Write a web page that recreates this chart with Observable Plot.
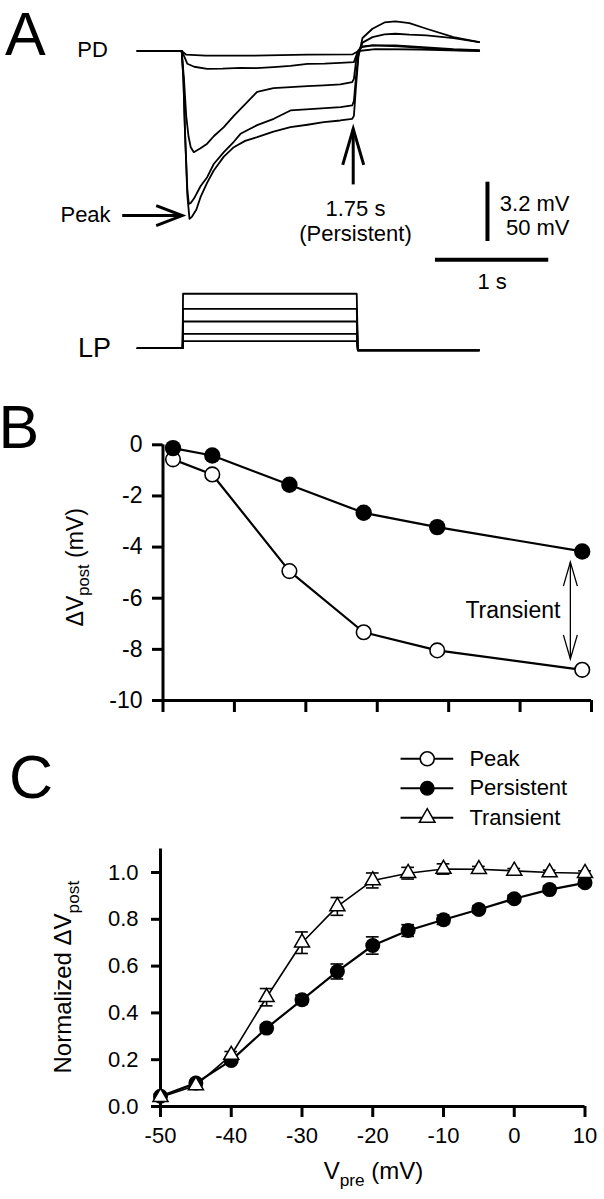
<!DOCTYPE html>
<html>
<head>
<meta charset="utf-8">
<script src="https://cdn.jsdelivr.net/npm/d3@7"></script>
<script src="https://cdn.jsdelivr.net/npm/@observablehq/plot@0.6"></script>
<style>
  body { margin: 0; background: #fff; }
  #fig { position: relative; width: 604px; height: 1199px; overflow: hidden; background: #fff;
         font-family: "Liberation Sans", Arial, Helvetica, sans-serif; color: #000; }
  #fig svg { position: absolute; left: 0; overflow: visible; }
  #fig svg [aria-label$="tick"] { stroke-width: 3px; }
  #fig svg .tick line { stroke-width: 3px; }
  .letter { position: absolute; font-size: 61px; line-height: 61px; }
</style>
</head>
<body>
<div id="fig"></div>
<script>
// ---------------- DATA ----------------
// Panel A: PD postsynaptic recordings, [time (s), ΔV (mV)]
const pdTrace1 = [[0,0],[0.39,0],[0.43,-0.2],[0.6,-0.25],[1.0,-0.25],[1.5,-0.2],[1.9,-0.18],[1.95,0],[2.1,0.1],[2.5,0.08],[3.016,0]];
const pdTrace2 = [[0,0],[0.39,0],[0.42,-0.4],[0.44,-0.69],[0.5,-0.85],[0.615,-0.96],[0.75,-0.95],[0.909,-0.91],[1.05,-0.92],[1.2,-0.87],[1.35,-0.8],[1.5,-0.69],[1.65,-0.68],[1.79,-0.64],[1.91,-0.6],[1.94,-0.1],[1.97,0.2],[2.074,0.3],[2.3,0.25],[2.55,0.15],[2.789,0.05],[3.016,0.02]];
const pdTrace3 = [[0,0],[0.39,0],[0.41,-1.5],[0.43,-3.5],[0.45,-4.6],[0.47,-5.2],[0.497,-5.46],[0.556,-5.25],[0.615,-5.0],[0.673,-4.6],[0.762,-4.11],[0.85,-3.5],[0.968,-2.76],[1.056,-2.2],[1.2,-2.0],[1.35,-1.95],[1.5,-1.9],[1.644,-1.86],[1.79,-1.8],[1.895,-1.68],[1.91,-1.5],[1.93,-0.5],[1.95,0.05],[1.986,0.25],[2.074,0.3],[2.277,0.3],[2.551,0.2],[2.789,0.1],[3.016,0.05]];
const pdTrace4 = [[0,0],[0.39,0],[0.405,-1.5],[0.42,-4.5],[0.44,-7.5],[0.453,-8.25],[0.47,-8.2],[0.5,-7.95],[0.556,-7.3],[0.615,-6.81],[0.673,-6.1],[0.762,-5.46],[0.85,-4.9],[0.909,-4.47],[1.056,-4.0],[1.203,-3.66],[1.35,-3.21],[1.556,-3.12],[1.792,-3.03],[1.895,-2.94],[1.91,-2.7],[1.93,-1.3],[1.95,-0.2],[1.986,0.45],[2.074,0.75],[2.18,0.9],[2.277,0.93],[2.4,0.88],[2.551,0.84],[2.789,0.7],[3.016,0.48]];
const pdTrace5 = [[0,0],[0.39,0],[0.405,-1.5],[0.42,-4.5],[0.44,-7.8],[0.459,-9.06],[0.48,-8.95],[0.52,-8.55],[0.556,-7.89],[0.615,-7.1],[0.673,-6.45],[0.762,-5.7],[0.85,-5.19],[0.95,-4.85],[1.056,-4.65],[1.2,-4.35],[1.35,-4.11],[1.5,-3.98],[1.644,-3.84],[1.79,-3.75],[1.895,-3.66],[1.91,-3.5],[1.93,-1.8],[1.95,-0.3],[1.986,0.7],[2.074,1.2],[2.18,1.54],[2.277,1.6],[2.4,1.5],[2.551,1.2],[2.789,0.75],[3.016,0.48]];

// Panel A: LP presynaptic voltage steps (mV) and timing (s)
const lpHolding = -60;
const lpAfter = -61.8;
const lpLevels = [-54.1, -47.9, -37.5, -26.8, -14.1];
const lpStepOn = 0.40;
const lpStepOff = 1.94;
const lpEnd = 3.016;

// Panel B: ΔVpost vs Vpre
const bVpre = [-48.6, -43.1, -32.3, -21.9, -11.6, 8.7];
const bPeak = [-0.57, -1.16, -4.94, -7.33, -8.04, -8.8];
const bPersistent = [-0.13, -0.42, -1.56, -2.66, -3.22, -4.17];
const bYTicks = [0, -2, -4, -6, -8, -10];
const bXTicks = [-50, -40, -30, -20, -10, 0, 10];

// Panel C: normalized ΔVpost vs Vpre (mean ± SEM)
const cVpre = [-50, -45, -40, -35, -30, -25, -20, -15, -10, -5, 0, 5, 10];
const cTransient = [0.04, 0.09, 0.22, 0.467, 0.70, 0.855, 0.966, 0.997, 1.015, 1.014, 1.007, 1.0, 0.997];
const cTransientSem = [0.01, 0.01, 0.015, 0.037, 0.046, 0.038, 0.032, 0.025, 0.022, 0.012, 0.01, 0.01, 0.01];
const cPersistent = [0.044, 0.10, 0.197, 0.335, 0.456, 0.577, 0.688, 0.752, 0.798, 0.842, 0.888, 0.927, 0.956];
const cPersistentSem = [0.01, 0.01, 0.012, 0.015, 0.02, 0.032, 0.037, 0.025, 0.02, 0.015, 0.015, 0.015, 0.015];
const cYTicks = [0, 0.2, 0.4, 0.6, 0.8, 1.0];
const cXTicks = [-50, -40, -30, -20, -10, 0, 10];
const legendLabels = ["Peak", "Persistent", "Transient"];

// ---------------- HELPERS ----------------
const FONT = '"Liberation Sans", Arial, Helvetica, sans-serif';
const fig = document.getElementById("fig");

function headSymbol(dir, len, half) {
  return {
    draw(ctx) {
      if (dir === "up") { ctx.moveTo(-half, len); ctx.lineTo(0, 0); ctx.lineTo(half, len); }
      else if (dir === "down") { ctx.moveTo(-half, -len); ctx.lineTo(0, 0); ctx.lineTo(half, -len); }
      else { ctx.moveTo(-len, -half); ctx.lineTo(0, 0); ctx.lineTo(-len, half); }
    }
  };
}

function place(svg, top) {
  svg.style.top = top + "px";
  fig.appendChild(svg);
  // turn "X_{sub}Y" into real subscripts
  d3.select(svg).selectAll("text").each(function () {
    const s = this.textContent;
    const m = s.match(/^(.*)_\{(.+?)\}(.*)$/);
    if (!m) return;
    const fs = parseFloat(getComputedStyle(this).fontSize) || 22;
    const shift = 0.3 * fs;
    const sel = d3.select(this);
    sel.text(null);
    sel.append("tspan").text(m[1]);
    sel.append("tspan").attr("dy", shift).style("font-size", "0.72em").text(m[2]);
    sel.append("tspan").attr("dy", -shift).text(m[3]);
  });
}

function letter(ch, left, top) {
  const d = document.createElement("div");
  d.className = "letter";
  d.textContent = ch;
  d.style.left = left + "px";
  d.style.top = top + "px";
  fig.appendChild(d);
}

const baseStyle = (size) => ({fontFamily: FONT, fontSize: size, background: "none", overflow: "visible", color: "black"});

// ---------------- PANEL A (PD) ----------------
const pdData = [pdTrace1, pdTrace2, pdTrace3, pdTrace4, pdTrace5]
  .flatMap((tr, k) => tr.map(([t, v]) => ({t, v, trace: k + 1})));

const aNote = {
  pd: {t: -0.532, v: -0.335, label: "PD"},
  peakText: {t: -0.68, v: -9.24, label: "Peak"},
  peakArrow: {t1: -0.135, t2: 0.3945, v: -8.88},
  persArrow: {t: 1.904, v1: -7.2, v2: -4.2},
  persText: [{t: 1.924, v: -8.88, label: "1.75 s"}, {t: 1.924, v: -10.23, label: "(Persistent)"}],
  vBar: {t: 3.089, v: -7.08, size: 3.2},
  vBarText: [{t: 3.813, v: -8.61, label: "3.2 mV"}, {t: 3.813, v: -9.92, label: "50 mV"}],
  hBar: {t: 2.63, v: -11.27, size: 1},
  hBarText: {t: 3.13, v: -12.83, label: "1 s"}
};

const pdPlot = Plot.plot({
  width: 604, height: 300,
  marginLeft: 137, marginRight: 0, marginTop: 0, marginBottom: 0,
  style: baseStyle("22px"),
  x: {domain: [0, 4.122], axis: null},
  y: {domain: [-13.465, 2.725], axis: null},
  marks: [
    Plot.line(pdData, {x: "t", y: "v", z: "trace", stroke: "black", strokeWidth: 1.8, strokeLinejoin: "round"}),
    Plot.text([aNote.pd], {x: "t", y: "v", text: "label", textAnchor: "start", lineAnchor: "bottom", fontSize: 22}),
    Plot.text([aNote.peakText], {x: "t", y: "v", text: "label", textAnchor: "start", lineAnchor: "bottom", fontSize: 22}),
    Plot.link([aNote.peakArrow], {x1: "t1", x2: "t2", y1: "v", y2: "v", stroke: "black", strokeWidth: 3}),
    Plot.dot([aNote.peakArrow], {x: "t2", y: "v", symbol: headSymbol("right", 26, 10), fill: "none", stroke: "black", strokeWidth: 3, strokeLinejoin: "miter"}),
    Plot.link([aNote.persArrow], {x1: "t", x2: "t", y1: "v1", y2: "v2", stroke: "black", strokeWidth: 3}),
    Plot.dot([aNote.persArrow], {x: "t", y: "v2", symbol: headSymbol("up", 36, 10.5), fill: "none", stroke: "black", strokeWidth: 3, strokeLinejoin: "miter"}),
    Plot.text(aNote.persText, {x: "t", y: "v", text: "label", textAnchor: "middle", lineAnchor: "bottom", fontSize: 22}),
    Plot.ruleX([aNote.vBar], {x: "t", y1: "v", y2: d => d.v - d.size, stroke: "black", strokeWidth: 4}),
    Plot.text(aNote.vBarText, {x: "t", y: "v", text: "label", textAnchor: "end", lineAnchor: "bottom", fontSize: 22}),
    Plot.ruleY([aNote.hBar], {y: "v", x1: "t", x2: d => d.t + d.size, stroke: "black", strokeWidth: 4}),
    Plot.text([aNote.hBarText], {x: "t", y: "v", text: "label", textAnchor: "middle", lineAnchor: "bottom", fontSize: 22})
  ]
});
place(pdPlot, 0);

// ---------------- PANEL A (LP) ----------------
const lpData = lpLevels.flatMap((L, k) => [
  {t: 0, v: lpHolding, trace: k}, {t: lpStepOn - 0.002, v: lpHolding, trace: k},
  {t: lpStepOn + 0.002, v: L, trace: k}, {t: lpStepOff - 0.005, v: L, trace: k},
  {t: lpStepOff + 0.005, v: lpAfter, trace: k}, {t: lpEnd, v: lpAfter, trace: k}
]);
const lpPlot = Plot.plot({
  width: 604, height: 90,
  marginLeft: 137, marginRight: 0, marginTop: 0, marginBottom: 0,
  style: baseStyle("27px"),
  x: {domain: [0, 4.122], axis: null},
  y: {domain: [-78.8, -2.92], axis: null},
  marks: [
    Plot.line(lpData, {x: "t", y: "v", z: "trace", stroke: "black", strokeWidth: 1.8}),
    Plot.text([{t: -0.525, v: -67.6, label: "LP"}], {x: "t", y: "v", text: "label", textAnchor: "start", lineAnchor: "bottom", fontSize: 27})
  ]
});
place(lpPlot, 280);

// ---------------- PANEL B ----------------
const bData = bVpre.map((x, i) => ({vpre: x, peak: bPeak[i], persistent: bPersistent[i]}));
const bNote = {
  arrow: {x: 7.04, top: -4.59, bottom: -8.37},
  text: {x: 5.65, v: -6.79, label: "Transient"},
  ylabel: {x: -61.27, v: -4.79, label: "ΔV_{post} (mV)"}
};
const bPlot = Plot.plot({
  width: 604, height: 360,
  marginLeft: 162.5, marginRight: 13, marginTop: 64.3, marginBottom: 40,
  style: baseStyle("23px"),
  x: {domain: [-50, 10], ticks: bXTicks, tickSize: 12, tickFormat: () => "", label: null},
  y: {domain: [-10, 0], ticks: bYTicks, tickSize: 10.5, tickPadding: 10, tickFormat: d => String(d), label: null},
  marks: [
    Plot.ruleX([-50], {y1: () => -10, y2: () => 0, stroke: "black", strokeWidth: 3}),
    Plot.ruleY([-10], {x1: () => -50, x2: () => 10, stroke: "black", strokeWidth: 3}),
    Plot.line(bData, {x: "vpre", y: "peak", stroke: "black", strokeWidth: 2.2}),
    Plot.line(bData, {x: "vpre", y: "persistent", stroke: "black", strokeWidth: 2.2}),
    Plot.dot(bData, {x: "vpre", y: "peak", r: 7.3, fill: "white", stroke: "black", strokeWidth: 1.6}),
    Plot.dot(bData, {x: "vpre", y: "persistent", r: 8.2, fill: "black"}),
    Plot.link([bNote.arrow], {x1: "x", x2: "x", y1: "top", y2: "bottom", stroke: "black", strokeWidth: 1.3}),
    Plot.dot([bNote.arrow], {x: "x", y: "top", symbol: headSymbol("up", 24, 7), fill: "none", stroke: "black", strokeWidth: 1.3, strokeLinejoin: "miter"}),
    Plot.dot([bNote.arrow], {x: "x", y: "bottom", symbol: headSymbol("down", 24, 7), fill: "none", stroke: "black", strokeWidth: 1.3, strokeLinejoin: "miter"}),
    Plot.text([bNote.text], {x: "x", y: "v", text: "label", textAnchor: "end", lineAnchor: "bottom", fontSize: 23}),
    Plot.text([bNote.ylabel], {x: "x", y: "v", text: "label", rotate: -90, textAnchor: "middle", lineAnchor: "bottom", fontSize: 23})
  ]
});
place(bPlot, 380);

// ---------------- PANEL C ----------------
const cData = cVpre.map((x, i) => ({
  vpre: x, tr: cTransient[i], trSem: cTransientSem[i], pe: cPersistent[i], peSem: cPersistentSem[i]
}));
const cap = 0.9; // half-width of error-bar caps, in mV of Vpre
const legend = {x1: -16.0, x2: -8.55, xm: -12.3, xt: -6.34, y0: 1.486, step: 0.126};
const legendRows = legendLabels.map((label, i) => ({label, y: legend.y0 - i * legend.step}));
const cNote = {
  ylabel: {x: -62.58, v: 0.553, label: "Normalized ΔV_{post}"},
  xlabel: {x: -19.9, v: -0.3077, label: "V_{pre} (mV)"}
};
const cPlot = Plot.plot({
  width: 604, height: 459,
  marginLeft: 160, marginRight: 19.5, marginTop: 108.6, marginBottom: 93,
  style: baseStyle("22px"),
  x: {domain: [-50, 10], ticks: cXTicks, tickSize: 11, tickPadding: 10, tickFormat: d => String(d), label: null},
  y: {domain: [0, 1.1], ticks: cYTicks, tickSize: 9, tickPadding: 13, tickFormat: d => d.toFixed(1), label: null},
  marks: [
    Plot.ruleX([-50], {y1: () => 0, y2: () => 1.1, stroke: "black", strokeWidth: 3}),
    Plot.ruleY([0], {x1: () => -50, x2: () => 10, stroke: "black", strokeWidth: 3}),
    // persistent
    Plot.ruleX(cData, {x: "vpre", y1: d => d.pe - d.peSem, y2: d => d.pe + d.peSem, stroke: "black", strokeWidth: 1.6}),
    Plot.ruleY(cData, {y: d => d.pe - d.peSem, x1: d => d.vpre - cap, x2: d => d.vpre + cap, stroke: "black", strokeWidth: 1.6}),
    Plot.ruleY(cData, {y: d => d.pe + d.peSem, x1: d => d.vpre - cap, x2: d => d.vpre + cap, stroke: "black", strokeWidth: 1.6}),
    Plot.line(cData, {x: "vpre", y: "pe", stroke: "black", strokeWidth: 2.2}),
    Plot.dot(cData, {x: "vpre", y: "pe", r: 7.5, fill: "black"}),
    // transient
    Plot.ruleX(cData, {x: "vpre", y1: d => d.tr - d.trSem, y2: d => d.tr + d.trSem, stroke: "black", strokeWidth: 1.6}),
    Plot.ruleY(cData, {y: d => d.tr - d.trSem, x1: d => d.vpre - cap, x2: d => d.vpre + cap, stroke: "black", strokeWidth: 1.6}),
    Plot.ruleY(cData, {y: d => d.tr + d.trSem, x1: d => d.vpre - cap, x2: d => d.vpre + cap, stroke: "black", strokeWidth: 1.6}),
    Plot.line(cData, {x: "vpre", y: "tr", stroke: "black", strokeWidth: 1.6}),
    Plot.dot(cData, {x: "vpre", y: "tr", symbol: "triangle", r: 5.6, fill: "white", stroke: "black", strokeWidth: 1.5}),
    // legend
    Plot.ruleY(legendRows, {y: "y", x1: () => legend.x1, x2: () => legend.x2, stroke: "black", strokeWidth: 2}),
    Plot.dot(legendRows.filter(d => d.label === "Peak"), {x: () => legend.xm, y: "y", r: 7, fill: "white", stroke: "black", strokeWidth: 1.6}),
    Plot.dot(legendRows.filter(d => d.label === "Persistent"), {x: () => legend.xm, y: "y", r: 7.5, fill: "black"}),
    Plot.dot(legendRows.filter(d => d.label === "Transient"), {x: () => legend.xm, y: "y", symbol: "triangle", r: 5.8, fill: "white", stroke: "black", strokeWidth: 1.5}),
    Plot.text(legendRows, {x: () => legend.xt, y: "y", text: "label", textAnchor: "start", fontSize: 22}),
    // axis titles
    Plot.text([cNote.ylabel], {x: "x", y: "v", text: "label", rotate: -90, textAnchor: "middle", lineAnchor: "bottom", fontSize: 24}),
    Plot.text([cNote.xlabel], {x: "x", y: "v", text: "label", textAnchor: "middle", lineAnchor: "bottom", fontSize: 24})
  ]
});
place(cPlot, 740);

// ---------------- PANEL LETTERS ----------------
letter("A", 5, 3.9);
letter("B", -1.5, 396.7);
letter("C", 9, 747.4);
</script>
</body>
</html>
